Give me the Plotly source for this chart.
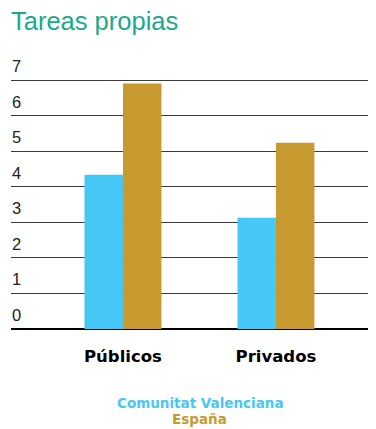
import plotly.graph_objects as go

# data
categorias = ["Públicos", "Privados"]
comunitat = [4.34, 3.13]
espana = [6.9, 5.24]
ticks_y = [0, 1, 2, 3, 4, 5, 6, 7]

azul = "#45C8F5"
oro = "#C79A30"
fuente = "Liberation Sans, Arial, sans-serif"
negrita = "DejaVu Sans, Arial, sans-serif"

# the page body keeps its 8px margin, so the figure is 8px smaller each way
W, H = 368, 421

fig = go.Figure()
fig.add_trace(go.Bar(x=categorias, y=comunitat, name="Comunitat Valenciana",
                     marker=dict(color=azul, line=dict(width=0))))
fig.add_trace(go.Bar(x=categorias, y=espana, name="España",
                     marker=dict(color=oro, line=dict(width=0))))

fig.update_layout(
    width=W, height=H,
    margin=dict(l=3, r=0, t=71, b=99.5),
    paper_bgcolor="white", plot_bgcolor="white",
    barmode="group", bargap=0.497, bargroupgap=0,
    showlegend=False,
    font=dict(family=fuente, color="#222"),
    title=dict(text="Tareas propias", x=3 / W, xanchor="left", y=1 - 13 / H, yanchor="middle",
               font=dict(size=25.5, color="#1AA98A")),
)
fig.update_xaxes(range=[-0.732, 1.654], showgrid=False, zeroline=False, showline=False,
                 automargin=False, ticks="", ticklabelstandoff=15,
                 tickfont=dict(size=16.5, color="black", family=negrita, weight="bold"))
fig.update_yaxes(range=[0, 7.03], tickvals=ticks_y, showgrid=True, gridcolor="#3a3a3a", gridwidth=1.3,
                 zeroline=True, zerolinecolor="black", zerolinewidth=1.5, automargin=False,
                 showticklabels=False)

# y labels sit above their gridline, inside the plot
for v in ticks_y:
    fig.add_annotation(text=str(v), x=0, y=v, xref="paper", yref="y",
                       xanchor="left", yanchor="bottom", showarrow=False,
                       xshift=-1, yshift=3, font=dict(size=16.5, color="#222"))

fig.add_annotation(text="<b>Comunitat Valenciana</b>", x=(200 - 11) / 365, y=0, xref="paper", yref="paper",
                   xanchor="center", yanchor="middle", showarrow=False, yshift=-73.5,
                   font=dict(size=13.5, color=azul, family=negrita))
fig.add_annotation(text="<b>España</b>", x=(199 - 11) / 365, y=0, xref="paper", yref="paper",
                   xanchor="center", yanchor="middle", showarrow=False, yshift=-89.5,
                   font=dict(size=13.5, color=oro, family=negrita))

fig.write_html("out.html")
